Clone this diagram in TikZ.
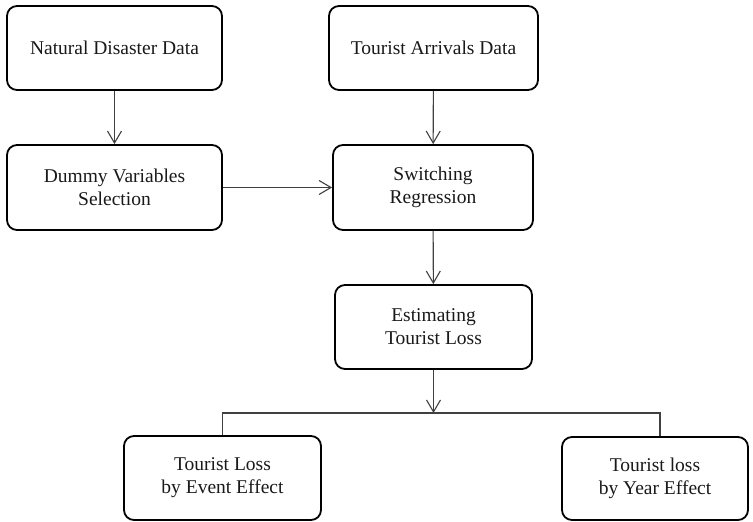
\documentclass[tikz,border=0pt]{standalone}
\usepackage{fontspec}
\setmainfont{Liberation Serif}
\usepackage{tikz}
\usetikzlibrary{arrows.meta}
\tikzstyle{box}=[draw=black, line width=1.8pt, rounded corners=10pt, align=center, inner sep=0pt, text=black!90, font=\fontsize{19.5}{23}\selectfont]
\tikzstyle{arrow}=[draw=black!75, line width=1.1pt, -{Straight Barb[length=12pt, width=14pt, line width=1.1pt]}]
\tikzstyle{line}=[draw=black!75, line width=1.1pt]

\begin{document}
\begin{tikzpicture}[x=1pt, y=-1pt]
        \useasboundingbox (0,0) rectangle (753,522);
        %% Datos de entrada
        \node[box, minimum width=215pt, minimum height=84pt] (disaster) at (114.5, 48) {Natural Disaster Data};
        \node[box, minimum width=209pt, minimum height=84pt] (arrivals) at (433.5, 48) {Tourist Arrivals Data};
        %% Procesamiento
        \node[box, minimum width=215pt, minimum height=85pt] (dummy) at (114.5, 187.5) {Dummy Variables\\Selection};
        \node[box, minimum width=200pt, minimum height=85pt] (switching) at (433, 187.5) {Switching\\Regression};
        \node[box, minimum width=197pt, minimum height=84pt] (estimating) at (433.5, 327) {Estimating\\Tourist Loss};
        %% Resultados
        \node[box, minimum width=197pt, minimum height=84pt] (event) at (222.5, 478) {Tourist Loss\\by Event Effect};
        \node[box, minimum width=186pt, minimum height=83pt] (year) at (655, 478.5) {Tourist loss\\by Year Effect};
        \coordinate (split) at (433.5, 413);
        % Flechas
        \draw[arrow] (disaster) -- (dummy);
        \draw[arrow] (arrivals) -- (switching);
        \draw[arrow] (dummy) -- (switching);
        \draw[arrow] (switching) -- (estimating);
        \draw[arrow] (estimating) -- (split);
        \draw[line] (event.north) |- (split);
        \draw[line] ([xshift=5pt]year.north) |- (split);
    \end{tikzpicture}
\end{document}
